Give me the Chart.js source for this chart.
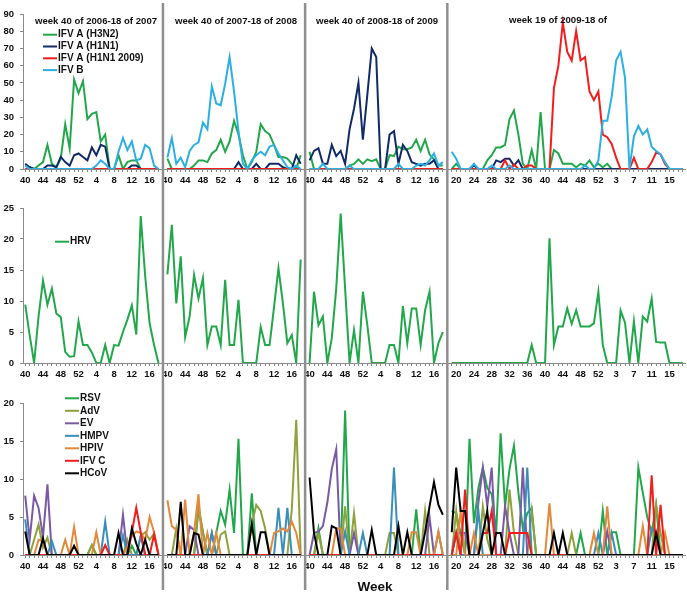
<!DOCTYPE html>
<html>
<head>
<meta charset="utf-8">
<script src="https://cdn.jsdelivr.net/npm/chart.js@4.4.1/dist/chart.umd.min.js"></script>
<style>
  body { margin: 0; background: #fff; width: 687px; height: 595px; position: relative; overflow: hidden; }
  canvas { position: absolute; left: 0; }
</style>
</head>
<body>
<canvas id="fluChart" width="687" height="190" style="top:0px"></canvas>
<canvas id="hrvChart" width="687" height="195" style="top:190px"></canvas>
<canvas id="otherChart" width="687" height="210" style="top:385px"></canvas>
<script>
// weeks of each season (season 4 runs over week 53 of 2009)
const weeksA = [40,41,42,43,44,45,46,47,48,49,50,51,52,1,2,3,4,5,6,7,8,9,10,11,12,13,14,15,16,17,18];
const weeksB = [19,20,21,22,23,24,25,26,27,28,29,30,31,32,33,34,35,36,37,38,39,40,41,42,43,44,45,46,47,48,49,50,51,52,53,1,2,3,4,5,6,7,8,9,10,11,12,13,14,15,16,17,18];
const seasonWeeks = [weeksA, weeksA, weeksA, weeksB];
const shownWeeks = [
    [40,44,48,52,4,8,12,16],
    [40,44,48,52,4,8,12,16],
    [40,44,48,52,4,8,12,16],
    [20,24,28,32,36,40,44,48,52,3,7,11,15]
];
const seasonTitles = ["week 40 of 2006-18 of 2007","week 40 of 2007-18 of 2008","week 40 of 2008-18 of 2009","week 19 of 2009-18 of"];

// top panel: influenza
const h3n2 = [
    [2,1,0,2,4,14,3,1,6,26,12,52,44,51,29,32,33,16,20,0,0,8,0,4,5,5,0,0,0,0,0],
    [6,0,0,0,0,0,2,5,5,4,9,11,17,10,16,28,20,8,0,4,10,26,22,20,14,7,7,6,3,0,8],
    [10,0,0,0,0,0,0,0,0,2,3,5.6,3,5.6,4.6,5.6,0,0,8,7.5,13,11.5,11.5,12.5,17,10.5,17,8.5,5.6,2,2],
    [0,3,0,0,0,0,0,0,5,8, 12.5,12.5,14,29,34,20,3,0,11,0, 33,0,0,11,9,3,3,3,1,3, 2,5,1,3,1,3,0,0,0,0, 0,0,0,0,0,0,0,0,0,0, 0,0,0]
];
const h1n1 = [
    [3,1,0,0,0,2,2,1,7,4,2,8,9,7,5,12.5,8,14,13,0,0,0,0,0,2,2,0,0,0,0,0],
    [0,0,0,0,0,0,0,0,0,0,0,0,0,0,0,0,4,0,0,0,3,0,0,3,3,3,1,0,0,8,3],
    [5,10.5,12,3,3,14,7.5,10.5,3,23,35,50,17,43,70,65,0,0,20,22,3,14,10.5,4,3,2,3,3,5,0,0],
    [0,0,0,0,0,2,0,0,0,0, 5,4,6,6,2,5,0,0,0,0, 0,0,0,0,0,0,0,0,0,0, 0,0,0,0,0,0,0,0,0,0, 0,0,0,0,0,0,0,0,0,0, 0,0,0]
];
const h1n1pdm = [
    [0,0,0,0,0,0,0,0,0,0,0,0,0,0,0,0,0,0,0,0,0,0,0,0,0,0,0,0,0,0,0],
    [0,0,0,0,0,0,0,0,0,0,0,0,0,0,0,0,0,0,0,0,0,0,0,0,0,0,0,0,0,0,0],
    [0,0,0,0,0,0,0,0,0,0,0,0,0,0,0,0,0,0,0,0,0,0,0,0,0,0,0,0,0,0,0],
    [0,0,0,0,0,0,0,0,0,0,0,0,5,0,2.7,0,0,2,2,0,0,0,0,47,60,85,68,63,80,63,65,45,40,45,20,18.5,14.5,6.6,0,0,0,6.6,0,0,0,4,9.5,8.5,3,0,0,0,0]
];
const ifvB = [
    [2,0,0,0,0,0,0,0,0,0,0,0,0,0,0,0,2,5,3,0,0,10,18,11,16,5,6,14,12,2,0],
    [6.6,18,3,6.6,1,10.5,14,15.5,27,23,48,38,37,49.5,65,45,22,3,0,5,8,10,8,13,14,9,5,1,0,2,0],
    [0,0,0,3,0,0,0,0,0,2,0,0,0,0,0,0,0,0,0,0,3,0,0,0,2,3,2,5,9,2,4],
    [10,6,0,0,0,3,0,0,0,2, 0,0,0,2,0,0,0,0,0,0, 0,0,0,0,0,0,0,0,0,0, 2,0,0,5,28,28,42,63,68,53, 0,19,25,20,23,13,10.5,8.5,4,0, 0,0,0]
];

// middle panel: rhinovirus
const hrv = [
    [9.4,4.5,0,7.5,13.3,9.4,12,8,7.4,1.8,1,1.1,6.7,2.9,2.9,1.7,0,0,2.9,0,2.9,2.8,5,7,9.3,4.6,23.7,14,6.4,2.9,0],
    [14.3,22.3,9.6,17.2,4.2,7.5,14.2,10.4,13.7,2.9,5.9,5.9,2.9,13.4,2.9,2.9,10.2,0,0,0,0,5.8,2.9,2.9,9,15.3,9.6,3.2,4.5,0,16.7],
    [0,11.5,6.1,7.5,0,4,12,24.1,12,0,5.3,0,11.5,6.1,0,0,0,0,2.9,2.9,0,9.2,3.2,8.8,8.8,2.9,8.5,11.5,0,3.2,5],
    [0,0,0,0,0,0,0,0,0,0, 0,0,0,0,0,0,0,0,2.9,0, 0,0,20.1,2.9,5.9,5.9,8.8,6.3,8.5,5.9, 5.9,5.9,6.4,11.5,2.9,0,0,0,8.5,6.5, 0,6.7,0,7.5,6.7,10.4,3.4,3.3,3.3,0, 0,0,0]
];

// bottom panel: other viruses
const rsv = [
    [0,0,0,0,0,0,0,0,0,0, 0,0,0,0,0,1.3,0,0,0,0, 0,0,0,0,1.2,0,0,0,0,0, 0],
    [0,0,0,0,0,0,0,6,3,0, 0,2.9,5.8,4,8.6,2.9,15.3,0,0,8.1, 0,0,0,0,0,0,0,0,0,0, 0],
    [0,0,3.5,0,0,0,0,0,19,0, 0,0,0,0,0,0,0,0,0,0, 0,0,0,0,6,0,0,0,0,0, 0],
    [5.8,5.5,2.9,0,15.3,4.2,8.8,11.5,8.8,8, 2.9,16,6.4,11.3,14.4,8.2,3.5,5.5,6.2,0, 0,0,0,0,0,0,0,0,0,2.9, 0,0,0,0,5.8,0,3,3,0,0, 0,0,11.5,8.2,5,2.9,6.6,0,0,0, 0,0,0]
];
const adv = [
    [0,0,2,4,1,2.3,0,0,0,0, 0,0,0,0,0,1.3,0,0,0,0, 0,0,0,2,0,0,2.5,3,2,2.8, 0],
    [0,0,3.5,0,0,0,0,6.5,3,0, 0,0,2.7,3.1,0,0,0,0,0,4, 6.6,5.8,3.5,0,0,0,0,0,6,17.8, 0],
    [0,0,2.9,0,0,0,0,0,6.4,0, 5.5,0,0,0,0,0,0,0,2.9,2.9, 0,0,0,0,0,0,5.8,0,0,0, 0],
    [0,5.8,0,0,0,0,0,6.4,2,0, 0,0,0,8.6,2.9,0,0,0,5.8,0, 0,0,0,0,0,0,0,2.9,0,0, 0,0,0,0,0,0,0,0,0,0, 0,0,0,0,0,0,6.6,2.9,0,0, 0,0,0]
];
const ev = [
    [7.8,2,7.8,6.2,2.4,9.3,0,0,0,0, 0,0,0,0,0,0,0,0,0,0, 0,0,5.3,0,0,0,0,0,0,0, 0],
    [0,0,0,0,0,3.8,3.3,0,0,0, 2.9,0,0,0,0,0,0,0,0,0, 0,0,0,0,0,0,0,0,0,0, 0],
    [0,2.9,3.1,3.8,6.9,11.3,13.9,0,0,0, 2.9,0,0,0,0,0,0,0,0,0, 0,0,0,0,0,0,0,5,0,0, 0],
    [0,2.9,2.9,2.9,0,0,6.9,11.5,6.4,11.5, 0,0,6.4,2.9,0,0,11.5,0,0,0, 0,0,0,0,0,0,0,0,0,0, 0,0,0,0,0,3.1,0,0,0,0, 0,0,0,0,0,0,0,0,0,0, 0,0,0]
];
const hmpv = [
    [4.7,0,0,0,0,0,1.8,0,0,0, 0,0,0,0,0,0,0,0,4.4,0, 0,0,2.6,0,0,0,2.5,0,0,0, 0],
    [0,0,0,0,0,0,0,0,0,0, 2.9,0,0,0,0,0,0,0,0,0, 0,0,0,0,0,6.2,0,6.2,0,0, 0],
    [0,0,0,0,0,0,0,0,3.1,0, 0,0,2.9,0,0,0,0,0,0,11.5, 0,0,0,0,0,0,0,0,0,3, 0],
    [0,2.9,0,0,0,0,5.8,0,0,0, 0,0,0,0,0,0,0,11.5,0,0, 0,0,0,0,0,0,0,0,0,0, 0,0,0,2.9,0,0,2.9,0,0,0, 0,0,0,0,0,3.5,2.9,0,0,0, 0,0,0]
];
const hpiv = [
    [0,0,0,2,1.8,0,0,0,0,2, 0,3.7,0,0,0,0,3,0,0,0, 0,0,0,1,2.5,3.1,2.9,2,5,3, 0],
    [7.2,3.8,3.3,0,7.3,0,3,8,0,2.9, 0,2.9,0,0,0,0,0,0,0,0, 0,0,0,0,2.9,3.1,3.5,3.1,4.4,2.9, 0],
    [0,0,0,0,0,0,3.5,3.5,0,0, 0,0,0,0,0,0,0,0,0,0, 0,0,0,3,3,0,0,0,0,3.1, 0],
    [0,0,5.8,0,0,2.9,0,0,0,0, 0,0,0,0,0,0,0,0,0,0, 0,0,6.8,0,0,0,0,0,0,0, 0,0,2.9,0,0,6.4,0,0,0,0, 0,0,0,3.8,0,0,0,0,2.9,0, 0,0,0]
];
const ifvC = [
    [0,0,0,0,0,0,0,0,0,0, 0,0,0,0,0,0,0,0,1.3,0, 0,0,0,0,3,6.2,3,0,0,2.7, 0],
    [0,0,0,0,0,0,0,0,0,0, 0,0,0,0,0,0,0,0,0,0, 0,0,0,0,0,0,0,0,0,0, 0],
    [0,0,0,0,0,0,0,0,0,0, 0,0,0,0,0,0,0,0,0,0, 0,0,0,0,0,0,0,0,0,0, 0],
    [0,2.9,0,8.6,0,0,0,2.9,2.9,5.8, 0,0,0,2.9,2.9,2.9,2.9,2.9,0,0, 0,0,0,0,0,0,0,0,0,0, 0,0,0,0,0,0,0,0,0,0, 0,0,0,0,0,10.5,0,6.6,0,0, 0,0,0]
];
const hcov = [
    [3.1,0,0,0,2.2,0,0,0,0,0, 0,1.2,0,0,0,0,0,0,0,0, 0,2.9,0,0,3.5,1.5,0,2,0,0, 0],
    [0,0,0,7,0,0,2.9,2.7,0,0, 0,0,0,0,0,0,0,0,0,4.1, 0,3,3,0,0,0,0,0,0,0, 0],
    [10.2,2.9,0,0,0,3.8,3.5,0,0,0, 0,0,0,0,3.3,0,0,0,0,0, 3.8,0,3,0,0,0,3,6.4,9.6,6.6, 5.3],
    [3,11.5,5.8,5.8,0,0,0,2.9,5.8,0, 2.9,2.9,0,0,0,0,0,0,0,0, 0,0,0,2.9,0,2.9,0,0,0,0, 0,0,0,0,0,0,0,0,0,0, 0,0,0,0,0,0,2.9,0,0,0, 0,0,0]
];

// one category per week, with an empty category between seasons
const labels = [], tickText = [], gaps = [];
seasonWeeks.forEach((wk, s) => {
    wk.forEach(w => {
        labels.push(String(w));
        tickText.push(shownWeeks[s].includes(w) ? String(w) : "");
    });
    if (s < 3) { gaps.push(labels.length); labels.push(""); tickText.push(""); }
});

function join(seasons) {
    const out = [];
    seasons.forEach((v, s) => { out.push(...v); if (s < 3) out.push(null); });
    return out;
}

const FONT = '"Liberation Sans", Arial, sans-serif';
const AXIS = "#8a8a8a";
Chart.defaults.font.family = FONT;

function panel(id, series, yMax, yStep, padTop, axisH, leg, sep, texts) {
    const deco = {
        id: "deco",
        afterDraw(chart) {
            const ctx = chart.ctx, x = chart.scales.x;
            ctx.save();
            // season separators
            ctx.strokeStyle = "#8f8f8f";
            ctx.lineWidth = 2.5;
            gaps.forEach(g => {
                const px = x.getPixelForValue(g);
                ctx.beginPath();
                ctx.moveTo(px, sep[0]);
                ctx.lineTo(px, chart.height - sep[1]);
                ctx.stroke();
            });
            // legend
            ctx.font = "bold 10px " + FONT;
            ctx.textBaseline = "middle";
            ctx.textAlign = "left";
            chart.data.datasets.forEach((d, i) => {
                const y = leg.y + i * leg.gap;
                ctx.strokeStyle = d.borderColor;
                ctx.lineWidth = 2;
                ctx.beginPath();
                ctx.moveTo(leg.x, y);
                ctx.lineTo(leg.x + 14, y);
                ctx.stroke();
                ctx.fillStyle = "#111";
                ctx.fillText(d.label, leg.x + 15, y);
            });
            // titles
            texts.forEach(t => {
                ctx.font = t.font;
                ctx.textAlign = "center";
                ctx.fillStyle = "#111";
                ctx.fillText(t.text, t.x, t.y);
            });
            ctx.restore();
        }
    };
    return new Chart(document.getElementById(id), {
        type: "line",
        data: {
            labels: labels,
            datasets: series.map((s, i) => ({
                label: s.name,
                data: join(s.data),
                borderColor: s.color,
                borderWidth: 2,
                pointRadius: 0,
                tension: 0,
                fill: false,
                spanGaps: false,
                order: series.length - i
            }))
        },
        options: {
            responsive: false,
            animation: false,
            events: [],
            devicePixelRatio: 1,
            layout: { padding: { top: padTop, right: 2, left: 0, bottom: 0 } },
            plugins: { legend: { display: false }, tooltip: { enabled: false } },
            scales: {
                x: {
                    offset: true,
                    grid: { offset: false, drawOnChartArea: false, drawTicks: true, tickLength: 3, color: AXIS },
                    border: { color: AXIS, width: 1 },
                    ticks: {
                        autoSkip: false, maxRotation: 0, minRotation: 0, padding: 3,
                        color: "#111", font: { size: 9.5, weight: "bold" },
                        callback: (v, i) => tickText[i]
                    },
                    afterFit: sc => { sc.height = axisH; }
                },
                y: {
                    min: 0, max: yMax,
                    grid: { drawOnChartArea: false, tickLength: 3, color: AXIS },
                    border: { color: AXIS, width: 1 },
                    ticks: { stepSize: yStep, padding: 6, color: "#111", font: { size: 9.5, weight: "bold" } },
                    afterFit: sc => { sc.width = 23; }
                }
            }
        },
        plugins: [deco]
    });
}

const titleFont = "bold 9.6px " + FONT;

panel("fluChart", [
    { name: "IFV A (H3N2)", data: h3n2, color: "#22a84b" },
    { name: "IFV A (H1N1)", data: h1n1, color: "#112b68" },
    { name: "IFV A (H1N1 2009)", data: h1n1pdm, color: "#f21d1d" },
    { name: "IFV B", data: ifvB, color: "#2cb0e4" }
], 90, 10, 14, 21, { x: 43, y: 34.7, gap: 11.8 }, [3, 0], [
    { text: seasonTitles[0], x: 96, y: 21.5, font: titleFont },
    { text: seasonTitles[1], x: 236, y: 21.5, font: titleFont },
    { text: seasonTitles[2], x: 377, y: 21.5, font: titleFont },
    { text: seasonTitles[3], x: 558, y: 20.5, font: titleFont }
]);

panel("hrvChart", [
    { name: "HRV", data: hrv, color: "#22a84b" }
], 25, 5, 18, 22, { x: 55, y: 51.7, gap: 12 }, [0, 0], []);

panel("otherChart", [
    { name: "RSV", data: rsv, color: "#22a84b" },
    { name: "AdV", data: adv, color: "#8fa23c" },
    { name: "EV", data: ev, color: "#7a5aa6" },
    { name: "HMPV", data: hmpv, color: "#3a8fba" },
    { name: "HPIV", data: hpiv, color: "#e4883a" },
    { name: "IFV C", data: ifvC, color: "#f21d1d" },
    { name: "HCoV", data: hcov, color: "#000000" }
], 20, 5, 18, 40, { x: 65, y: 13.3, gap: 12.5 }, [0, 5], [
    { text: "Week", x: 375, y: 202, font: "bold 13.5px " + FONT }
]);
</script>
</body>
</html>
